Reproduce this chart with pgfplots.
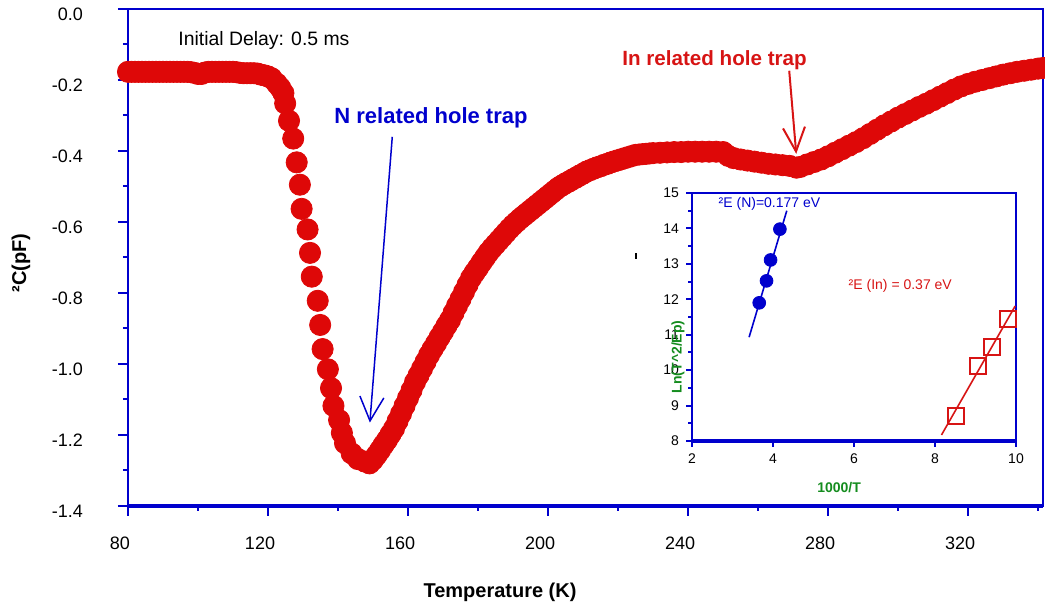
\documentclass[border=0pt]{standalone}
\usepackage{fontspec}
\setmainfont{Liberation Sans}
\usepackage{pgfplots}
\pgfplotsset{compat=1.18}
\usetikzlibrary{arrows.meta}

\definecolor{axblue}{RGB}{0,0,205}
\definecolor{ptred}{RGB}{222,8,8}
\definecolor{txred}{RGB}{215,20,20}
\definecolor{lngreen}{RGB}{20,140,30}

\begin{document}
\begin{tikzpicture}
% page = 1045 x 613 px at 0.5pt per px, origin at the main axis' lower left corner
\useasboundingbox (-64pt,-53.5pt) rectangle (458.5pt,253pt);

\begin{axis}[
    at={(0,0)}, anchor=south west,
    scale only axis, width=457.5pt, height=248.5pt,
    xmin=80, xmax=341.4, ymin=-1.4, ymax=0,
    axis line style={axblue, line width=1pt},
    tick style={axblue, line width=1pt},
    tick align=outside, xtick pos=bottom, ytick pos=left,
    major tick length=5pt, minor tick length=2.5pt,
    xtick={80,120,...,320}, minor xtick={100,140,...,340},
    ytick={-1.4,-1.2,...,0}, minor ytick={-1.3,-1.1,...,-0.1},
    yticklabels={-1.4,-1.2,-1.0,-0.8,-0.6,-0.4,-0.2,0.0},
    /pgf/number format/assume math mode=true,
    xticklabel style={font=\fontsize{9}{10}\selectfont, xshift=-4pt, yshift=-7pt},
    yticklabel style={font=\fontsize{9}{10}\selectfont, xshift=-14pt, yshift=-2.5pt},
    xlabel={\textbf{Temperature (K)}},
    ylabel={\textbf{²C(pF)}},
    label style={font=\fontsize{10}{12}\selectfont},
    xlabel style={at={(axis description cs:0.4066,-0.173)}, anchor=center},
    ylabel style={at={(axis description cs:-0.117,0.489)}, anchor=center},
    clip=false,
]
% thicker bottom line
\draw[axblue, line width=2pt] (rel axis cs:0,0) -- (rel axis cs:1,0);

\addplot[only marks, mark=*, mark size=5.3pt, color=ptred] coordinates {
 (80,-0.177) (81,-0.177) (82,-0.177) (83,-0.177) (84,-0.177) (85,-0.177)
 (86,-0.177) (87,-0.177) (88,-0.177) (89,-0.177) (90,-0.177) (91,-0.177)
 (92,-0.177) (93,-0.177) (94,-0.177) (95,-0.177) (96,-0.177) (97,-0.177)
 (98,-0.178) (99,-0.180) (100,-0.183) (101,-0.183) (102,-0.179) (103,-0.177)
 (104,-0.177) (105,-0.177) (106,-0.177) (107,-0.177) (108,-0.177) (109,-0.177)
 (110,-0.177) (111,-0.178) (112,-0.180) (113,-0.181) (114,-0.181) (115,-0.181)
 (116,-0.181) (117,-0.182) (118,-0.185) (119,-0.187) (120,-0.190)
 (121.0,-0.195) (122.5,-0.210) (123.5,-0.222) (124.4,-0.237) (124.9,-0.266)
 (126.0,-0.315) (127.2,-0.365) (128.2,-0.432) (129.1,-0.495) (129.6,-0.563)
 (131.3,-0.621) (132.0,-0.687) (132.5,-0.754) (134.2,-0.822) (134.9,-0.890)
 (135.6,-0.958) (137.1,-1.015) (138.0,-1.068) (138.7,-1.118) (140.3,-1.158)
 (141.1,-1.194) (142.0,-1.223) (143.9,-1.252) (145.7,-1.268) (147.7,-1.275)
 (149,-1.280) (150,-1.270) (151,-1.257) (152,-1.243) (153,-1.228) (154,-1.214)
 (155,-1.198) (156,-1.182) (157,-1.161) (158,-1.140) (159,-1.118) (160,-1.096)
 (161,-1.074) (162,-1.051) (163,-1.032) (164,-1.013) (165,-0.994) (166,-0.975)
 (167,-0.958) (168,-0.942) (169,-0.925) (170,-0.909) (171,-0.892) (172,-0.876)
 (173,-0.856) (174,-0.836) (175,-0.817) (176,-0.797) (177,-0.777) (178,-0.758)
 (179,-0.743) (180,-0.729) (181,-0.714) (182,-0.700) (183,-0.686) (184,-0.674)
 (185,-0.663) (186,-0.652) (187,-0.641) (188,-0.630) (189,-0.619) (190,-0.609)
 (191,-0.600) (192,-0.591) (193,-0.583) (194,-0.575) (195,-0.567) (196,-0.559)
 (197,-0.551) (198,-0.543) (199,-0.535) (200,-0.527) (201,-0.519) (202,-0.511)
 (203,-0.503) (204,-0.497) (205,-0.491) (206,-0.486) (207,-0.480) (208,-0.475)
 (209,-0.469) (210,-0.464) (211,-0.458) (212,-0.454) (213,-0.450) (214,-0.446)
 (215,-0.443) (216,-0.439) (217,-0.436) (218,-0.432) (219,-0.429) (220,-0.426)
 (221,-0.423) (222,-0.420) (223,-0.417) (224,-0.414) (225,-0.411) (226,-0.410)
 (227,-0.409) (228,-0.408) (229,-0.407) (230,-0.406) (232,-0.405) (234,-0.404)
 (236,-0.403) (238,-0.403) (240,-0.402) (242,-0.402) (244,-0.402) (246,-0.402)
 (248,-0.402) (250,-0.403) (251.5,-0.414) (253,-0.420) (255,-0.424) (257,-0.427)
 (259,-0.430) (261,-0.433) (263,-0.436) (265,-0.438) (267,-0.440) (269,-0.442)
 (271,-0.447) (272,-0.445) (274,-0.438) (276,-0.431) (278,-0.424) (280,-0.415)
 (282,-0.405) (284,-0.395) (286,-0.385) (288,-0.375) (290,-0.364) (292,-0.352)
 (294,-0.340) (296,-0.328) (298,-0.317) (300,-0.306) (302,-0.296) (304,-0.286)
 (306,-0.276) (308,-0.267) (310,-0.257) (312,-0.247) (314,-0.237) (316,-0.227)
 (318,-0.218) (320,-0.211) (322,-0.205) (324,-0.200) (326,-0.195) (328,-0.190)
 (330,-0.185) (332,-0.181) (334,-0.177) (336,-0.174) (338,-0.171) (340,-0.168)
 (341.5,-0.166)
};

% annotations
\draw[axblue, line width=0.75pt, -{Straight Barb[length=12pt,width=12pt]}]
  (axis cs:155.5,-0.360) -- (axis cs:149.1,-1.165);
\draw[txred, line width=1pt, -{Straight Barb[length=12pt,width=11pt]}]
  (axis cs:268.9,-0.174) -- (axis cs:270.9,-0.408);
\end{axis}

\node[anchor=west, inner sep=0pt, font=\fontsize{9.7}{11}\selectfont] at (25pt,232.5pt) {Initial Delay: 0.5 ms};
\node[anchor=west, inner sep=0pt, text=axblue, font=\fontsize{11}{13}\selectfont\bfseries] at (103pt,194pt) {N related hole trap};
\node[anchor=west, inner sep=0pt, text=txred, font=\fontsize{10.3}{12}\selectfont\bfseries] at (247pt,223pt) {In related hole trap};
\draw[black, line width=0.6pt] (254pt,123.5pt) -- (254pt,126.5pt);

% inset: Arrhenius plot
\begin{axis}[
    at={(282pt,32.5pt)}, anchor=south west,
    scale only axis, width=162pt, height=124pt,
    xmin=2, xmax=10, ymin=8, ymax=15,
    axis line style={axblue, line width=1pt},
    tick style={axblue, line width=1pt},
    tick align=outside, xtick pos=bottom, ytick pos=left,
    major tick length=3pt, minor tick length=2pt,
    xtick={2,4,...,10}, ytick={8,...,15}, minor ytick={8.5,9.5,...,14.5},
    /pgf/number format/assume math mode=true,
    ticklabel style={font=\fontsize{7}{8}\selectfont},
    xlabel={\textbf{1000/T}}, ylabel={\textbf{Ln(T\^{}2/Ep)}},
    label style={font=\fontsize{7}{8}\selectfont, text=lngreen},
    xlabel style={at={(axis description cs:0.454,-0.1895)}, anchor=center},
    ylabel style={at={(axis description cs:-0.043,0.339)}, anchor=center},
    clip=false,
]
\draw[axblue, line width=2pt] (rel axis cs:0,0) -- (rel axis cs:1,0);
\addplot[axblue, line width=0.8pt, no marks] coordinates {(3.41,10.93) (4.34,14.50)};
\addplot[only marks, mark=*, mark size=3.2pt, color=axblue] coordinates {
 (3.66,11.90) (3.84,12.52) (3.94,13.11) (4.17,13.98)
};
\addplot[txred, line width=0.8pt, no marks] coordinates {(8.16,8.17) (9.98,11.81)};
\addplot[only marks, mark=square, mark size=4pt, color=txred, line width=1pt] coordinates {
 (8.52,8.71) (9.05,10.12) (9.40,10.66) (9.79,11.43)
};
\node[anchor=west, inner sep=0pt, text=axblue, font=\fontsize{7}{8}\selectfont] at (axis cs:2.65,14.69) {²E (N)=0.177 eV};
\node[anchor=west, inner sep=0pt, text=txred, font=\fontsize{7}{8}\selectfont] at (axis cs:5.86,12.37) {²E (In) = 0.37 eV};
\end{axis}
\end{tikzpicture}
\end{document}
